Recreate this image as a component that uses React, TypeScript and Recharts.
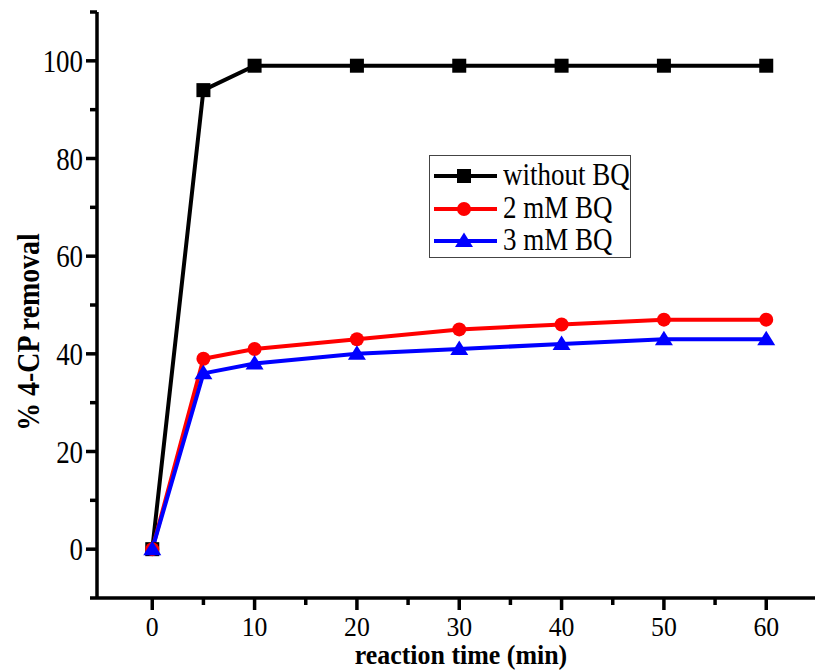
import React from 'react';
import { LineChart, Line, XAxis, YAxis } from 'recharts';

const times = [0, 5, 10, 20, 30, 40, 50, 60];
const withoutBQ = [0, 94, 99, 99, 99, 99, 99, 99];
const bq2mM = [0, 39, 41, 43, 45, 46, 47, 47];
const bq3mM = [0, 36, 38, 40, 41, 42, 43, 43];

const xTicks = [0, 5, 10, 15, 20, 25, 30, 35, 40, 45, 50, 55, 60];
const yTicks = [-10, 0, 10, 20, 30, 40, 50, 60, 70, 80, 90, 100, 110];
const topTicks = [2, 9.1, 16.1, 23.2, 30.3, 37.3, 44.4, 51.4, 58.4];

const seriesNames = ['without BQ', '2 mM BQ', '3 mM BQ'];

const data = times.map((t, i) => ({
  t,
  a: withoutBQ[i],
  b: bq2mM[i],
  c: bq3mM[i],
}));

const FONT = '"Liberation Serif", "Times New Roman", serif';
const SQ = 'scale(0.87,1)';

function XTick({ x, y, payload }: any) {
  const v = payload.value;
  const major = v % 10 === 0;
  return (
    <g transform={`translate(${x},${y})`}>
      <line y1={0} y2={major ? 12 : 7} stroke="#000" strokeWidth={3.5} />
      {major && (
        <text y={38} textAnchor="middle" transform="scale(0.92,1)" fontSize={28} fontFamily={FONT} fill="#000">
          {v}
        </text>
      )}
    </g>
  );
}

function YTick({ x, y, payload }: any) {
  const v = payload.value;
  const major = v % 20 === 0;
  return (
    <g transform={`translate(${x},${y})`}>
      <line x1={0} x2={major ? -11 : -7} stroke="#000" strokeWidth={3.5} />
      {major && (
        <text x={-16} y={11} textAnchor="end" transform={SQ} fontSize={31} fontFamily={FONT} fill="#000">
          {v}
        </text>
      )}
    </g>
  );
}

function TopTick({ x, y }: any) {
  return <line x1={x} x2={x} y1={y - 1} y2={y + 2} stroke="#333" strokeWidth={1} />;
}

const square = (cx: number, cy: number, key?: any) => (
  <rect key={key} x={cx - 7} y={cy - 7} width={14} height={14} fill="#000" />
);
const circle = (cx: number, cy: number, key?: any) => (
  <circle key={key} cx={cx} cy={cy} r={7} fill="#ff0000" />
);
const triangle = (cx: number, cy: number, key?: any) => (
  <polygon key={key} points={`${cx},${cy - 8.5} ${cx - 9},${cy + 6} ${cx + 9},${cy + 6}`} fill="#0000ff" />
);

const markers = [square, circle, triangle];
const colors = ['#000000', '#ff0000', '#0000ff'];

function Legend() {
  return (
    <div
      style={{
        position: 'absolute',
        left: 429,
        top: 155,
        width: 200,
        height: 101,
        border: '1px solid #444',
        background: '#fff',
      }}
    >
      {seriesNames.map((name, i) => (
        <div key={name} style={{ position: 'absolute', left: 0, top: 4 + i * 32.5, height: 32, width: 200 }}>
          <svg width={70} height={32} style={{ position: 'absolute', left: 0, top: 0 }}>
            <line x1={4} x2={67} y1={16} y2={16} stroke={colors[i]} strokeWidth={4} />
            {markers[i](34, 16)}
          </svg>
          <span
            style={{
              position: 'absolute',
              left: 73,
              top: -3,
              fontFamily: FONT,
              fontSize: 31,
              whiteSpace: 'nowrap',
              transform: SQ,
              transformOrigin: 'left center',
              color: '#000',
            }}
          >
            {name}
          </span>
        </div>
      ))}
    </div>
  );
}

export default function App() {
  return (
    <div style={{ position: 'absolute', left: 0, top: 0, width: 815, height: 670, overflow: 'hidden', background: '#fff' }}>
      <LineChart width={840} height={670} data={data} margin={{ top: 12, right: 18.5, bottom: 0, left: 0 }}>
        <XAxis
          dataKey="t"
          type="number"
          domain={[-5.4, 65.4]}
          ticks={xTicks}
          interval={0}
          height={72}
          tickSize={0}
          tickMargin={0}
          tickLine={false}
          tick={<XTick />}
          axisLine={{ stroke: '#000', strokeWidth: 3.5 }}
          allowDataOverflow
        />
        <XAxis
          xAxisId="top"
          orientation="top"
          dataKey="t"
          type="number"
          domain={[-5.4, 65.4]}
          ticks={topTicks}
          interval={0}
          height={0}
          tickSize={0}
          tickMargin={0}
          tickLine={false}
          tick={<TopTick />}
          axisLine={{ stroke: '#000', strokeWidth: 3.5 }}
          allowDataOverflow
        />
        <YAxis
          type="number"
          domain={[-10, 110]}
          ticks={yTicks}
          interval={0}
          width={97}
          tickSize={0}
          tickMargin={0}
          tickLine={false}
          tick={<YTick />}
          axisLine={{ stroke: '#000', strokeWidth: 3.5 }}
          allowDataOverflow
        />
        {['a', 'b', 'c'].map((k, i) => (
          <Line
            key={k}
            dataKey={k}
            stroke={colors[i]}
            strokeWidth={4}
            isAnimationActive={false}
            dot={(p: any) => markers[i](p.cx, p.cy, `${k}-${p.index}`)}
            activeDot={false}
          />
        ))}
        <text
          x={461}
          y={664}
          textAnchor="middle"
          transform="translate(461,0) scale(0.96,1) translate(-461,0)"
          fontSize={27}
          fontWeight="bold"
          fontFamily={FONT}
          fill="#000"
        >
          reaction time (min)
        </text>
        <text
          transform={`translate(39,332) rotate(-90) ${SQ}`}
          textAnchor="middle"
          fontSize={32}
          fontWeight="bold"
          fontFamily={FONT}
          fill="#000"
        >
          % 4-CP removal
        </text>
      </LineChart>
      <Legend />
    </div>
  );
}
